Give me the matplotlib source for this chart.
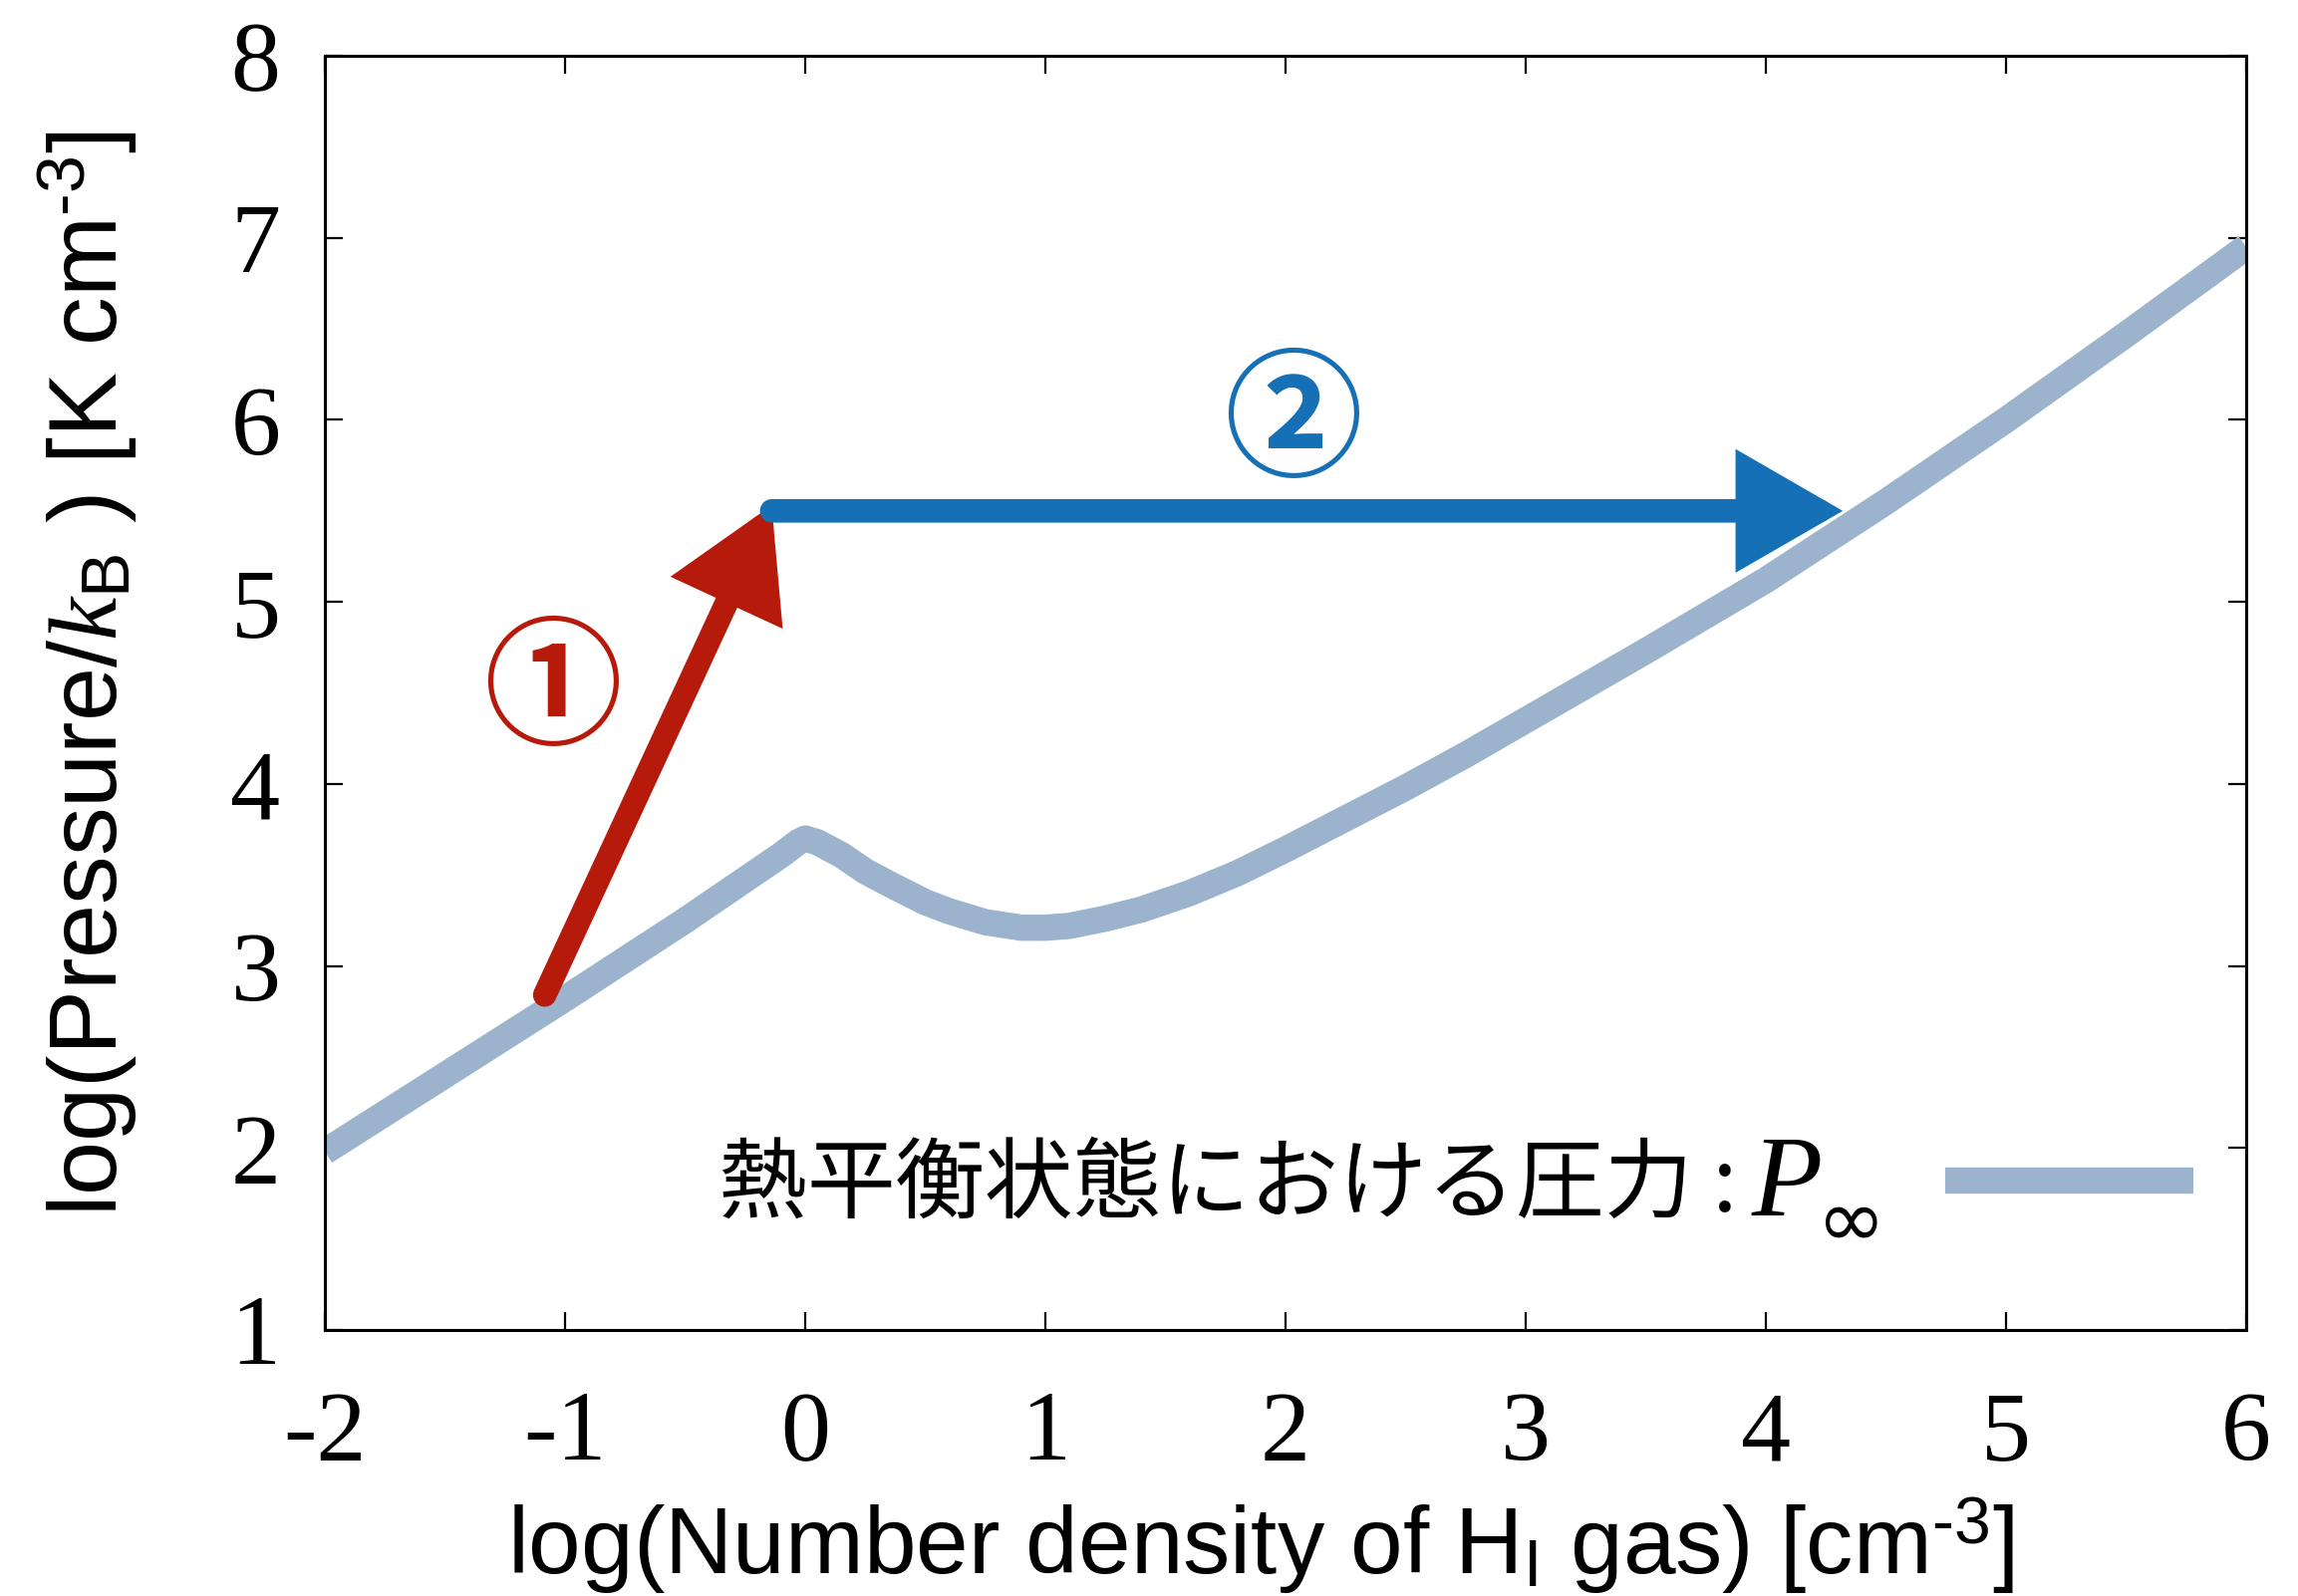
"""
Thermal equilibrium pressure curve of HI gas with two process arrows.
"""

import matplotlib
matplotlib.use("Agg")
import matplotlib.pyplot as plt

plt.rcParams["font.family"] = ["Liberation Sans", "DejaVu Sans"]
plt.rcParams["mathtext.fontset"] = "custom"
plt.rcParams["mathtext.rm"] = "Liberation Sans"
plt.rcParams["mathtext.it"] = "Liberation Serif:italic"
plt.rcParams["mathtext.bf"] = "Liberation Sans:bold"
plt.rcParams["axes.unicode_minus"] = False

# equilibrium curve
log_n = [-2.0, -1.5, -1.0, -0.5, -0.2, -0.1, -0.03, 0.0, 0.05, 0.15, 0.25, 0.35,
         0.5, 0.6, 0.75, 0.9, 1.0, 1.1, 1.25, 1.4, 1.6, 1.8, 2.0, 2.25, 2.5,
         2.75, 3.0, 3.5, 4.0, 4.5, 5.0, 5.5, 6.0]
log_p = [1.98, 2.40, 2.82, 3.25, 3.52, 3.61, 3.68, 3.70, 3.68, 3.61, 3.52, 3.45,
         3.35, 3.30, 3.24, 3.21, 3.21, 3.22, 3.26, 3.31, 3.40, 3.51, 3.64, 3.81, 3.98,
         4.16, 4.35, 4.73, 5.12, 5.55, 6.00, 6.47, 6.95]

# process arrows: (start, end)
arrow1 = ((-1.085, 2.84), (-0.14, 5.53))
arrow2 = ((-0.14, 5.50), (4.32, 5.50))
label1_pos = (-1.05, 4.50)
label2_pos = (2.03, 5.97)

x_ticks = [-2, -1, 0, 1, 2, 3, 4, 5, 6]
y_ticks = [1, 2, 3, 4, 5, 6, 7, 8]

CURVE = "#9bb3cc"
RED = "#b51a0a"
BLUE = "#1670b6"

fig = plt.figure(figsize=(11.53, 8.01), dpi=200)
ax = fig.add_axes([0.1414, 0.1667, 0.8361, 0.7983])

ax.plot(log_n, log_p, color=CURVE, lw=9.5, solid_capstyle="butt",
        solid_joinstyle="round", label="熱平衡状態における圧力 :", zorder=2)

for (tail, tip), col in [(arrow1, RED), (arrow2, BLUE)]:
    ax.annotate("", xy=tip, xytext=tail,
                arrowprops=dict(arrowstyle="-|>,head_length=1.3,head_width=0.75",
                                mutation_scale=20, lw=8.5, color=col,
                                shrinkA=0, shrinkB=0, joinstyle="miter"),
                zorder=3)

ax.text(*label1_pos, "①", color=RED, fontsize=50, ha="center", va="center",
        fontweight="bold", family=["Noto Sans CJK JP", "DejaVu Sans"])
ax.text(*label2_pos, "②", color=BLUE, fontsize=50, ha="center", va="center",
        fontweight="bold", family=["Noto Sans CJK JP", "DejaVu Sans"])

ax.set_xlim(-2, 6)
ax.set_ylim(1, 8)
ax.set_xticks(x_ticks)
ax.set_yticks(y_ticks)
ax.tick_params(direction="in", length=6.5, width=0.8, top=True, right=True,
               labelsize=36)
ax.tick_params(axis="x", pad=22)
ax.tick_params(axis="y", pad=16)
for lbl in ax.get_xticklabels() + ax.get_yticklabels():
    lbl.set_family("Liberation Serif")
for sp in ax.spines.values():
    sp.set_linewidth(1.1)

ax.set_xlabel("log(Number density of H$_{\\mathrm{I}}$ gas) [cm$^{\\text{-3}}$]",
              fontsize=34, va="center", ha="center")
ax.set_ylabel("log(Pressure/$k_{\\mathrm{B}}$ ) [K cm$^{\\text{-3}}$]",
              fontsize=35, va="center", ha="center")
ax.xaxis.set_label_coords(0.487, -0.169)
ax.yaxis.set_label_coords(-0.1236, 0.515)

leg = ax.legend(loc="center right", bbox_to_anchor=(0.9725, 0.113),
                frameon=False, markerfirst=False, handlelength=2.8,
                handletextpad=2.35, borderaxespad=0, borderpad=0,
                prop={"family": "Noto Sans CJK JP", "size": 32})
# P_inf after the legend text, bigger than the text itself
p_sym = ax.annotate("P", xy=(1.0, 1.0), xycoords=leg.get_texts()[0],
                    xytext=(5, 2), textcoords="offset points",
                    ha="left", va="top", fontsize=42, style="italic",
                    family="Liberation Serif", zorder=6)
ax.annotate("∞", xy=(1.0, 0.0), xycoords=p_sym,
            xytext=(-2, 6), textcoords="offset points",
            ha="left", va="center", fontsize=30, family="DejaVu Sans", zorder=6)

fig.canvas.draw()
fig.savefig("out.png", dpi=200)
